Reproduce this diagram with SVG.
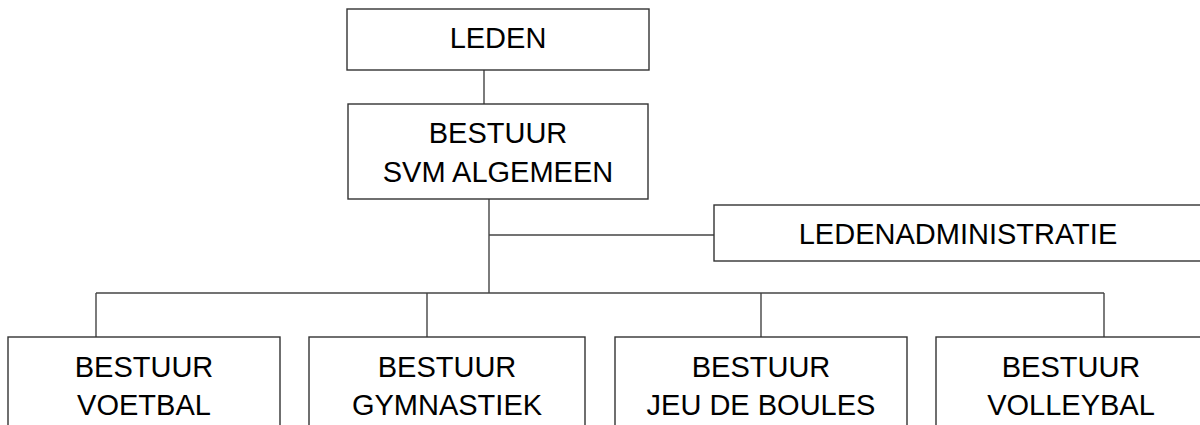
<svg xmlns="http://www.w3.org/2000/svg" width="1200" height="425" viewBox="0 0 1200 425">
<style>
.box{fill:#fff;stroke:#333;stroke-width:1.4}
.ln{fill:none;stroke:#444;stroke-width:1.4}
.t{font-family:"Liberation Sans",Arial,sans-serif;font-size:29px;fill:#000;text-anchor:middle}
</style>
<rect width="1200" height="425" fill="#fff"/>
<g id="connectors">
<line class="ln" x1="484" y1="70" x2="484" y2="104"/>
<line class="ln" x1="489" y1="199" x2="489" y2="293"/>
<line class="ln" x1="489" y1="235" x2="714" y2="235"/>
<line class="ln" x1="96" y1="293" x2="1104" y2="293"/>
<line class="ln" x1="96" y1="293" x2="96" y2="337"/>
<line class="ln" x1="427" y1="293" x2="427" y2="337"/>
<line class="ln" x1="761" y1="293" x2="761" y2="337"/>
<line class="ln" x1="1104" y1="293" x2="1104" y2="337"/>
</g>
<g id="leden">
<rect class="box" x="347" y="9" width="302" height="61"/>
<text class="t" x="498" y="48">LEDEN</text>
</g>
<g id="bestuur-svm">
<rect class="box" x="348" y="104" width="300" height="95"/>
<text class="t" x="498" y="143">BESTUUR</text>
<text class="t" x="498" y="182">SVM ALGEMEEN</text>
</g>
<g id="ledenadministratie">
<rect class="box" x="714" y="205" width="490" height="56"/>
<text class="t" x="958" y="244">LEDENADMINISTRATIE</text>
</g>
<g id="voetbal">
<rect class="box" x="8" y="337" width="272" height="110"/>
<text class="t" x="144" y="377">BESTUUR</text>
<text class="t" x="144" y="415">VOETBAL</text>
</g>
<g id="gymnastiek">
<rect class="box" x="309" y="337" width="276" height="110"/>
<text class="t" x="447" y="377">BESTUUR</text>
<text class="t" x="447" y="415">GYMNASTIEK</text>
</g>
<g id="jeu-de-boules">
<rect class="box" x="615" y="337" width="292" height="110"/>
<text class="t" x="761" y="377">BESTUUR</text>
<text class="t" x="761" y="415">JEU DE BOULES</text>
</g>
<g id="volleybal">
<rect class="box" x="936" y="337" width="270" height="110"/>
<text class="t" x="1071" y="377">BESTUUR</text>
<text class="t" x="1071" y="415">VOLLEYBAL</text>
</g>
</svg>
